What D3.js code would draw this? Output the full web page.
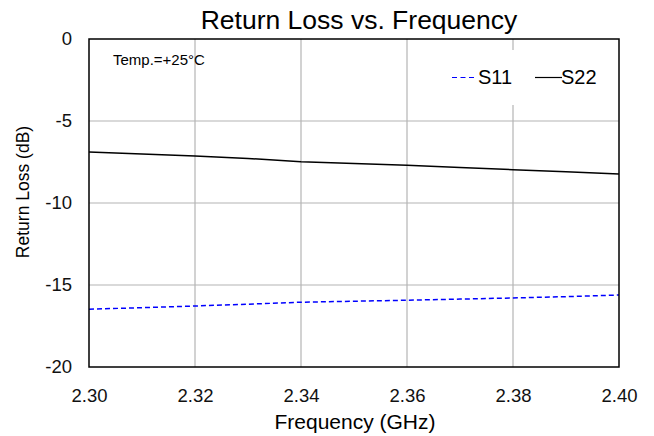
<!DOCTYPE html>
<html>
<head>
<meta charset="UTF-8">
<title>Return Loss vs. Frequency</title>
<script src="https://d3js.org/d3.v7.min.js"></script>
<style>
  body { margin: 0; background: white; }
  svg { font-family: Arial, "Liberation Sans", sans-serif; }
</style>
</head>
<body>
<svg width="654" height="436"></svg>
<script>
const freq = [2.30, 2.31, 2.32, 2.33, 2.34, 2.35, 2.36, 2.37, 2.38, 2.39, 2.40];
const s11 = [-16.48, -16.38, -16.28, -16.17, -16.05, -15.99, -15.93, -15.86, -15.79, -15.71, -15.61];
const s22 = [-6.89, -7.01, -7.13, -7.28, -7.48, -7.59, -7.70, -7.83, -7.97, -8.10, -8.23];
const xTicks = [2.30, 2.32, 2.34, 2.36, 2.38, 2.40];
const yTicks = [0, -5, -10, -15, -20];

const plotL = 89, plotR = 619, plotT = 39, plotB = 367;
const svg = d3.select('svg');

const x = d3.scaleLinear().domain([2.30, 2.40]).range([plotL, plotR]);
const y = d3.scaleLinear().domain([-20, 0]).range([plotB, plotT]);

// grid
svg.append('g').selectAll('line')
  .data(xTicks.slice(1, -1))
  .enter().append('line')
  .attr('x1', d => x(d)).attr('x2', d => x(d))
  .attr('y1', plotT).attr('y2', plotB)
  .attr('stroke', '#b4b4b4').attr('stroke-width', 1.2);
svg.append('g').selectAll('line')
  .data(yTicks.slice(1, -1))
  .enter().append('line')
  .attr('x1', plotL).attr('x2', plotR)
  .attr('y1', d => y(d)).attr('y2', d => y(d))
  .attr('stroke', '#b4b4b4').attr('stroke-width', 1.2);

// axes (labels only)
const xAxis = d3.axisBottom(x).tickValues(xTicks).tickFormat(d3.format('.2f')).tickSize(0).tickPadding(22);
const yAxis = d3.axisLeft(y).tickValues(yTicks).tickFormat(d => d).tickSize(0).tickPadding(17);
const gx = svg.append('g').attr('transform', 'translate(0,' + plotB + ')').call(xAxis);
const gy = svg.append('g').attr('transform', 'translate(' + plotL + ',0)').call(yAxis);
[gx, gy].forEach(g => {
  g.select('.domain').remove();
  g.selectAll('text').attr('font-size', 18.5).attr('fill', '#111').attr('font-family', 'Arial, "Liberation Sans", sans-serif');
});

// legend box (white, hides grid)
svg.append('rect')
  .attr('x', 446).attr('y', 50).attr('width', 160).attr('height', 55)
  .attr('fill', 'white');

// lines
const line = d3.line().x((d, i) => x(freq[i])).y(d => y(d));
svg.append('path').datum(s22)
  .attr('d', line).attr('fill', 'none')
  .attr('stroke', 'black').attr('stroke-width', 1.5);
svg.append('path').datum(s11)
  .attr('d', line).attr('fill', 'none')
  .attr('stroke', '#0000ff').attr('stroke-width', 1.5)
  .attr('stroke-dasharray', '5,3');

// frame
svg.append('rect')
  .attr('x', plotL).attr('y', plotT).attr('width', plotR - plotL).attr('height', plotB - plotT)
  .attr('fill', 'none').attr('stroke', 'black').attr('stroke-width', 1.5);

// legend
const legend = svg.append('g');
legend.append('line').attr('x1', 452).attr('x2', 474).attr('y1', 77.5).attr('y2', 77.5)
  .attr('stroke', '#0000ff').attr('stroke-width', 1.2).attr('stroke-dasharray', '5,3.5');
legend.append('text').attr('x', 478).attr('y', 84).attr('font-size', 20).text('S11');
legend.append('line').attr('x1', 535).attr('x2', 562).attr('y1', 77.5).attr('y2', 77.5)
  .attr('stroke', 'black').attr('stroke-width', 1.2);
legend.append('text').attr('x', 561).attr('y', 84).attr('font-size', 20).text('S22');

// annotation
svg.append('text').attr('x', 113).attr('y', 65).attr('font-size', 15).text('Temp.=+25°C');

// title and axis titles
svg.append('text').attr('x', 359).attr('y', 29).attr('text-anchor', 'middle')
  .attr('font-size', 26.5).text('Return Loss vs. Frequency');
svg.append('text').attr('x', 355).attr('y', 429).attr('text-anchor', 'middle')
  .attr('font-size', 21).text('Frequency (GHz)');
svg.append('text').attr('transform', 'translate(29,192) rotate(-90)').attr('text-anchor', 'middle')
  .attr('font-size', 17.5).text('Return Loss (dB)');
</script>
</body>
</html>
